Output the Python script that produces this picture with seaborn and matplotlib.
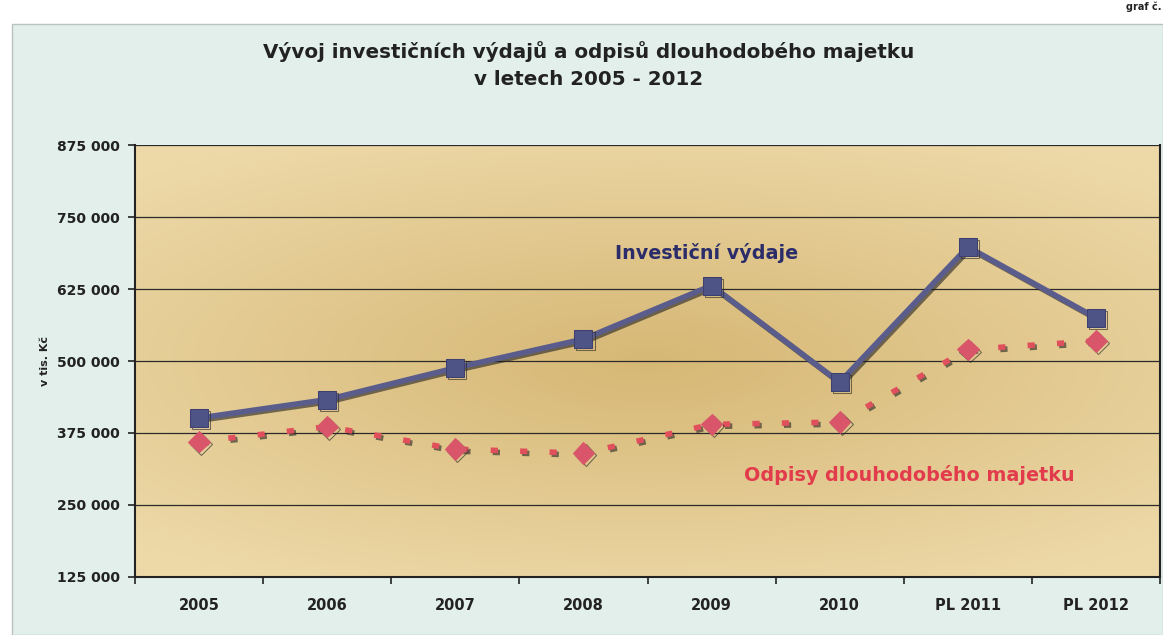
import numpy as np
import pandas as pd
import matplotlib
matplotlib.use("Agg")
import matplotlib.pyplot as plt
import matplotlib.patheffects as pe
from matplotlib.ticker import FuncFormatter, FixedLocator
import seaborn as sns

# ---- data ----
categories = ["2005", "2006", "2007", "2008", "2009", "2010", "PL 2011", "PL 2012"]
investicni_vydaje = [401000, 433000, 488000, 538000, 631000, 463000, 698000, 575000]
odpisy = [360000, 386000, 347000, 340000, 390000, 394000, 520000, 535000]
y_ticks = [125000, 250000, 375000, 500000, 625000, 750000, 875000]

title = "Vývoj investičních výdajů a odpisů dlouhodobého majetku\nv letech 2005 - 2012"
label_inv = "Investiční výdaje"
label_odp = "Odpisy dlouhodobého majetku"
y_label = "v tis. Kč"

sns.set_theme(style="white")
plt.rcParams["font.family"] = ["DejaVu Sans"]

fig = plt.figure(figsize=(11.63, 6.35), dpi=100)
fig.patch.set_facecolor("#ffffff")
# pale chart-area background with frame
fig.patches.append(plt.Rectangle((12 / 1163, 0), 1 - 12 / 1163, 1 - 24 / 635,
                                 transform=fig.transFigure, facecolor="#e3efeb",
                                 edgecolor="#b8c2bf", linewidth=1.0, zorder=-5))

ax = fig.add_axes([135 / 1163, 1 - 577 / 635, 1025 / 1163, 432 / 635])
ax.set_zorder(2)
ax.set_facecolor("#e6d09a")

# radial gradient plot-area background
gx, gy = np.meshgrid(np.linspace(-1, 1, 300), np.linspace(-1, 1, 200))
r = np.sqrt((gx * 0.9) ** 2 + (gy * 1.1) ** 2)
r = np.clip(r, 0, 1.3) / 1.3
c_center = np.array([0.84, 0.72, 0.46])
c_edge = np.array([0.93, 0.85, 0.66])
img = c_center[None, None, :] * (1 - r[..., None]) + c_edge[None, None, :] * r[..., None]
ax.imshow(img, extent=[0, 1, 0, 1], transform=ax.transAxes, aspect="auto", zorder=0)

df = pd.DataFrame({"kat": categories, "inv": investicni_vydaje, "odp": odpisy})

shadow = [pe.SimpleLineShadow(offset=(1.5, -1.5), alpha=0.6, shadow_color="#222222"), pe.Normal()]

sns.lineplot(data=df, x="kat", y="odp", ax=ax, color="#e0505c", linewidth=4,
             marker="D", markersize=11, markerfacecolor="#d9566a", markeredgecolor="#d9566a",
             sort=False, zorder=3, path_effects=shadow)
ax.lines[-1].set_dashes((1.3, 4.0))

sns.lineplot(data=df, x="kat", y="inv", ax=ax, color="#5a5d8c", linewidth=4,
             marker="s", markersize=13, markerfacecolor="#4f5487", markeredgecolor="#3d4070",
             sort=False, zorder=4, path_effects=shadow)

ax.set_ylim(125000, 875000)
ax.set_xlim(-0.5, len(categories) - 0.5)
ax.yaxis.set_major_locator(FixedLocator(y_ticks))
ax.yaxis.set_major_formatter(FuncFormatter(lambda v, p: f"{int(v):,}".replace(",", " ")))
ax.grid(axis="y", color="#2a2a2a", linewidth=0.9, zorder=1)
ax.set_axisbelow(True)

ax.set_xticks(range(len(categories)))
ax.set_xticklabels(categories)
ax.set_xticks(np.arange(-0.5, len(categories)), minor=True)
ax.tick_params(axis="x", which="major", bottom=True, length=0, pad=15, labelsize=10.5, colors="#222222")
ax.tick_params(axis="x", which="minor", bottom=True, length=5, width=1.2, color="#222222")
ax.tick_params(axis="y", left=True, length=5, width=1.2, color="#222222", labelsize=10,
               labelcolor="#222222", pad=6)
for lbl in ax.get_xticklabels() + ax.get_yticklabels():
    lbl.set_fontweight("bold")

for side in ["left", "bottom", "right"]:
    ax.spines[side].set_visible(True)
    ax.spines[side].set_color("#222222")
    ax.spines[side].set_linewidth(1.5)
ax.spines["top"].set_visible(False)

ax.set_xlabel("")
ax.set_ylabel(y_label, fontsize=8, fontweight="bold", color="#222222", labelpad=5)

ax.text(3.96, 687500, label_inv, ha="center", va="center", fontsize=13.8,
        fontweight="bold", color="#2b2d6b", zorder=5)
ax.text(5.54, 302000, label_odp, ha="center", va="center", fontsize=13.8,
        fontweight="bold", color="#e23c4c", zorder=5)

fig.text(589 / 1163, 1 - 65 / 635, title, ha="center", va="center", fontsize=14.3,
         fontweight="bold", color="#222222", linespacing=1.5)
fig.text(1 - 2 / 1163, 1 - 1 / 635, "graf č.", ha="right", va="top", fontsize=7,
         fontweight="bold", color="#222222")

fig.savefig("out.png", dpi=100, facecolor=fig.get_facecolor())
